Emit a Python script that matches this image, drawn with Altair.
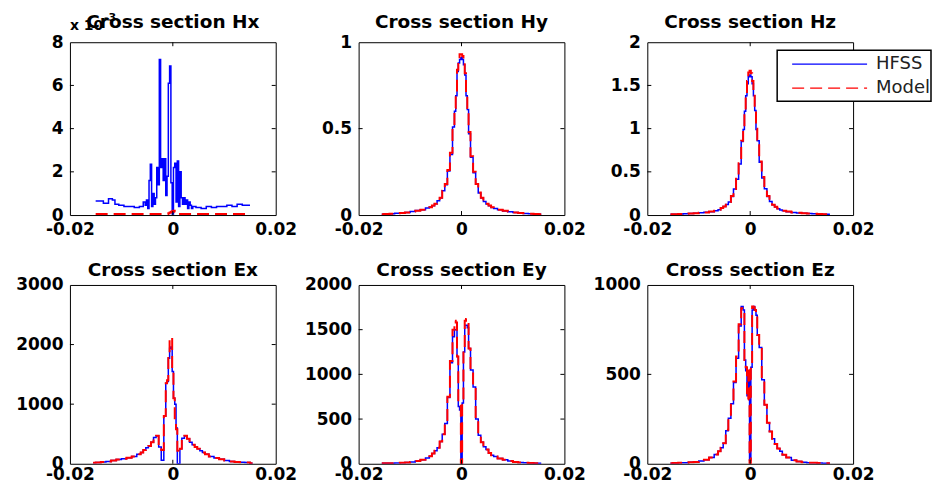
import altair as alt
import pandas as pd

FONT = "DejaVu Sans"
BLUE = "#0000ff"
RED = "#ff0000"

# ---------------- data ----------------
X_TICKS = [-0.02, 0, 0.02]

# shared x grid for Hy, Hz, Ex, Ey, Ez
X_GRID = [-0.0155, -0.0145, -0.0135, -0.0125, -0.0115, -0.0105, -0.0095, -0.0085, -0.0075, -0.0065,
          -0.006, -0.0055, -0.005, -0.0045, -0.004, -0.0035, -0.003, -0.0025, -0.002, -0.0015,
          -0.00125, -0.001, -0.00075, -0.0005, -0.00025, 0.0, 0.00025, 0.0005, 0.00075, 0.001, 0.00125,
          0.0015, 0.002, 0.0025, 0.003, 0.0035, 0.004, 0.0045, 0.005, 0.0055, 0.006,
          0.0065, 0.0075, 0.0085, 0.0095, 0.0105, 0.0115, 0.0125, 0.0135, 0.0145, 0.0155]

# x grid for Hx
X_HX = [-0.015, -0.014, -0.013, -0.012, -0.0115, -0.011, -0.010, -0.009, -0.008, -0.007, -0.006,
        -0.0055, -0.00525, -0.005, -0.00475, -0.0045, -0.00425, -0.004, -0.00375, -0.0035, -0.00325,
        -0.003, -0.00275, -0.0025, -0.00225, -0.002, -0.00175, -0.0015, -0.00125, -0.001, -0.00075,
        -0.0005, -0.00025, 0.0, 0.00025, 0.0005, 0.00075, 0.001, 0.00125, 0.0015, 0.00175,
        0.002, 0.00225, 0.0025, 0.00275, 0.003, 0.00325, 0.0035, 0.00375, 0.004,
        0.005, 0.006, 0.007, 0.008, 0.009, 0.010, 0.011, 0.012, 0.013, 0.014, 0.015]

# Hx in units of 1e-3
HX_HFSS = [0.65, 0.65, 0.55, 0.75, 0.70, 0.50, 0.45, 0.40, 0.40, 0.35, 0.40,
           0.60, 0.45, 0.70, 0.30, 1.60, 2.35, 0.40, 1.00, 0.50, 0.80,
           2.20, 1.40, 7.20, 2.20, 2.60, 1.60, 2.60, 0.90, 1.80, 6.10,
           6.90, 1.50, 0.05, 2.20, 2.40, 0.60, 2.50, 0.40, 2.00, 0.80,
           0.50, 0.80, 0.50, 0.70, 0.30, 0.60, 0.45, 0.30, 0.40,
           0.35, 0.30, 0.40, 0.35, 0.40, 0.40, 0.45, 0.40, 0.50, 0.45, 0.45]
HX_MODEL = [0.05, 0.05, 0.05, 0.05, 0.05, 0.05, 0.05, 0.05, 0.05, 0.05, 0.05,
            0.05, 0.05, 0.05, 0.05, 0.05, 0.05, 0.05, 0.05, 0.05, 0.05,
            0.05, 0.05, 0.05, 0.05, 0.05, 0.05, 0.05, 0.05, 0.05, 0.08,
            0.12, 0.15, 0.18, 0.20, 0.15, 0.10, 0.05, 0.05, 0.05, 0.05,
            0.05, 0.05, 0.05, 0.05, 0.05, 0.05, 0.05, 0.05, 0.05,
            0.05, 0.05, 0.05, 0.05, 0.05, 0.05, 0.05, 0.05, 0.05, 0.05, 0.05]

HY_HFSS = [0.004, 0.006, 0.008, 0.010, 0.013, 0.015, 0.020, 0.026, 0.031, 0.040,
           0.046, 0.054, 0.066, 0.082, 0.098, 0.140, 0.175, 0.255, 0.350, 0.510,
           0.600, 0.690, 0.830, 0.880, 0.900, 0.910, 0.900, 0.870, 0.810, 0.690, 0.610,
           0.470, 0.335, 0.245, 0.178, 0.128, 0.098, 0.078, 0.064, 0.054, 0.044,
           0.038, 0.030, 0.024, 0.019, 0.015, 0.012, 0.009, 0.007, 0.006, 0.005]
HY_MODEL = [0.005, 0.006, 0.008, 0.010, 0.012, 0.015, 0.020, 0.025, 0.030, 0.040,
            0.045, 0.055, 0.065, 0.080, 0.100, 0.140, 0.180, 0.260, 0.360, 0.520,
            0.620, 0.700, 0.840, 0.890, 0.930, 0.930, 0.920, 0.880, 0.820, 0.700, 0.620,
            0.480, 0.340, 0.250, 0.180, 0.130, 0.100, 0.080, 0.065, 0.055, 0.045,
            0.040, 0.030, 0.025, 0.020, 0.015, 0.012, 0.010, 0.008, 0.006, 0.005]

HZ_HFSS = [0.008, 0.010, 0.012, 0.014, 0.018, 0.021, 0.025, 0.031, 0.039, 0.050,
           0.060, 0.078, 0.098, 0.122, 0.150, 0.215, 0.300, 0.415, 0.590, 0.850,
           0.990, 1.200, 1.380, 1.520, 1.600, 1.620, 1.600, 1.520, 1.380, 1.210, 0.990,
           0.860, 0.610, 0.430, 0.305, 0.215, 0.158, 0.118, 0.094, 0.074, 0.059,
           0.049, 0.039, 0.030, 0.024, 0.020, 0.017, 0.014, 0.011, 0.010, 0.009]
HZ_MODEL = [0.010, 0.010, 0.012, 0.015, 0.018, 0.020, 0.025, 0.030, 0.040, 0.050,
            0.060, 0.080, 0.100, 0.120, 0.150, 0.220, 0.300, 0.420, 0.600, 0.860,
            1.000, 1.220, 1.400, 1.550, 1.650, 1.670, 1.640, 1.550, 1.400, 1.230, 1.000,
            0.870, 0.620, 0.440, 0.310, 0.220, 0.160, 0.120, 0.095, 0.075, 0.060,
            0.050, 0.040, 0.030, 0.025, 0.020, 0.018, 0.015, 0.012, 0.010, 0.010]

EX_HFSS = [15, 20, 28, 40, 55, 70, 85, 100, 120, 160,
           190, 230, 270, 300, 360, 440, 470, 280, 60, 800,
           1350, 1380, 1770, 1940, 1960, 1550, 1100, 1000, 600, 0, 0,
           250, 430, 470, 420, 360, 320, 280, 250, 220, 190,
           160, 120, 95, 75, 55, 40, 30, 25, 20, 10]
EX_MODEL = [15, 20, 30, 40, 55, 70, 85, 100, 120, 160,
            190, 230, 270, 300, 360, 440, 470, 300, 230, 800,
            1350, 1400, 1830, 2100, 2120, 1600, 1100, 700, 580, 220, 180,
            250, 430, 470, 420, 360, 320, 280, 250, 220, 190,
            160, 120, 95, 75, 55, 40, 30, 25, 20, 10]

EY_HFSS = [5, 5, 7, 9, 12, 15, 20, 30, 45, 65,
           85, 115, 145, 180, 250, 330, 450, 740, 1130, 1420,
           1500, 1500, 1200, 640, 600, 0, 680, 1250, 1550, 1550, 1520,
           1290, 1050, 860, 500, 320, 240, 190, 160, 120, 95,
           80, 60, 45, 30, 20, 14, 10, 8, 6, 5]
EY_MODEL = [5, 5, 7, 9, 12, 15, 20, 30, 45, 65,
            85, 115, 145, 180, 250, 330, 450, 750, 1150, 1500,
            1600, 1580, 1200, 650, 650, 0, 700, 1300, 1600, 1620, 1600,
            1290, 1050, 860, 500, 320, 240, 190, 160, 120, 95,
            80, 60, 45, 30, 20, 14, 10, 8, 6, 5]

EZ_HFSS = [3, 4, 5, 6, 8, 10, 15, 22, 35, 52,
           70, 90, 115, 185, 255, 335, 455, 590, 770, 880,
           860, 580, 520, 380, 520, 20, 540, 860, 880, 860, 830,
           720, 650, 470, 330, 230, 180, 140, 110, 85, 70,
           50, 35, 20, 12, 8, 6, 5, 4, 3, 3]
EZ_MODEL = [3, 4, 5, 6, 8, 10, 15, 22, 35, 52,
            70, 90, 115, 190, 260, 340, 460, 600, 780, 870,
            870, 560, 540, 360, 540, 0, 550, 880, 875, 860, 840,
            720, 650, 470, 330, 230, 180, 140, 110, 85, 70,
            50, 35, 20, 12, 8, 6, 5, 4, 3, 3]

TITLES = ["Cross section Hx", "Cross section Hy", "Cross section Hz",
          "Cross section Ex", "Cross section Ey", "Cross section Ez"]
Y_MAX = [8, 1, 2, 3000, 2000, 1000]
Y_TICKS = [[0, 2, 4, 6, 8], [0, 0.5, 1], [0, 0.5, 1, 1.5, 2],
           [0, 1000, 2000, 3000], [0, 500, 1000, 1500, 2000], [0, 500, 1000]]
LEGEND_LABELS = ["HFSS", "Model"]

W = 206
ROW_H = [173, 179]
TITLE_Y = [-14, -9]
XLAB_PAD = [6, 3]

ONE = pd.DataFrame({"a": [0]})


def make_panel(i, x, hfss, model):
    row = i // 3
    h = ROW_H[row]
    xs = alt.Scale(domain=[-0.02, 0.02], nice=False, zero=False)
    ys = alt.Scale(domain=[0, Y_MAX[i]], nice=False)
    xaxis = alt.Axis(values=X_TICKS,
                     labelExpr="datum.value < 0 ? '-' + format(-datum.value, '.2f') : (datum.value == 0 ? '0' : format(datum.value, '.2f'))",
                     ticks=False, domain=False, grid=False, labelFont=FONT, labelFontWeight="bold",
                     labelFontSize=17, labelColor="black", labelPadding=XLAB_PAD[row],
                     labelFlush=False, labelOverlap=False, title=None)
    yaxis = alt.Axis(values=Y_TICKS[i], labelExpr="'' + datum.value",
                     ticks=False, domain=False, grid=False, labelFont=FONT, labelFontWeight="bold",
                     labelFontSize=17, labelColor="black", labelPadding=7,
                     labelFlush=False, labelOverlap=False, title=None)
    X = lambda f: alt.X(f, scale=xs, axis=xaxis)
    Y = lambda f: alt.Y(f, scale=ys, axis=yaxis)
    df_h = pd.DataFrame({"x": x, "y": hfss})
    df_m = pd.DataFrame({"x": x, "y": model})
    blue = alt.Chart(df_h).mark_line(interpolate="step", color=BLUE, strokeWidth=1.5, clip=True).encode(
        x=X("x:Q"), y=Y("y:Q"))
    red = alt.Chart(df_m).mark_line(interpolate="step", color=RED, strokeWidth=2, strokeDash=[12, 6],
                                    clip=True).encode(x=X("x:Q"), y=Y("y:Q"))
    xt = pd.DataFrame({"x": [0.0]})
    yt = pd.DataFrame({"y": Y_TICKS[i][1:-1]})
    tb = alt.Chart(xt).mark_rule(color="black").encode(x=X("x:Q"), y=alt.value(h), y2=alt.value(h - 4))
    tt = alt.Chart(xt).mark_rule(color="black").encode(x=X("x:Q"), y=alt.value(0), y2=alt.value(4))
    tl = alt.Chart(yt).mark_rule(color="black").encode(y=Y("y:Q"), x=alt.value(0), x2=alt.value(4))
    tr = alt.Chart(yt).mark_rule(color="black").encode(y=Y("y:Q"), x=alt.value(W), x2=alt.value(W - 4))
    ttl = alt.Chart(ONE).mark_text(font=FONT, fontWeight="bold", fontSize=18.5, align="center",
                                   baseline="alphabetic", color="black").encode(
        x=alt.value(W / 2), y=alt.value(TITLE_Y[row]), text=alt.value(TITLES[i]))
    layers = [blue, red, tb, tt, tl, tr, ttl]
    if i == 0:
        layers.append(alt.Chart(ONE).mark_text(font=FONT, fontWeight="bold", fontSize=14, align="left",
                                                baseline="alphabetic", color="black").encode(
            x=alt.value(0), y=alt.value(-12), text=alt.value("x 10")))
        layers.append(alt.Chart(ONE).mark_text(font=FONT, fontWeight="bold", fontSize=11, align="left",
                                                baseline="alphabetic", color="black").encode(
            x=alt.value(34), y=alt.value(-21), text=alt.value("-3")))
    if i == 2:
        layers.append(alt.Chart(ONE).mark_rect(fill="white", stroke="black", strokeWidth=1.5).encode(
            x=alt.value(130), x2=alt.value(284), y=alt.value(8), y2=alt.value(59)))
        layers.append(alt.Chart(ONE).mark_rule(color=BLUE, strokeWidth=1.2).encode(
            x=alt.value(145), x2=alt.value(220), y=alt.value(22)))
        layers.append(alt.Chart(ONE).mark_rule(color=RED, strokeWidth=1.2, strokeDash=[12, 6]).encode(
            x=alt.value(145), x2=alt.value(220), y=alt.value(46)))
        for k, lab in enumerate(LEGEND_LABELS):
            layers.append(alt.Chart(ONE).mark_text(font=FONT, fontSize=18, align="left", baseline="middle",
                                                    color="#222222").encode(
                x=alt.value(229), y=alt.value(22 + 24 * k), text=alt.value(lab)))
    return alt.layer(*layers).properties(width=W, height=h)


panels = [
    make_panel(0, X_HX, HX_HFSS, HX_MODEL),
    make_panel(1, X_GRID, HY_HFSS, HY_MODEL),
    make_panel(2, X_GRID, HZ_HFSS, HZ_MODEL),
    make_panel(3, X_GRID, EX_HFSS, EX_MODEL),
    make_panel(4, X_GRID, EY_HFSS, EY_MODEL),
    make_panel(5, X_GRID, EZ_HFSS, EZ_MODEL),
]

chart = alt.concat(*panels, columns=3, spacing={"row": 70, "column": 83}, bounds="flush", align="each").properties(
    padding={"left": 7, "top": 3, "right": 0, "bottom": 0},
    background="white",
).configure_view(stroke="black", strokeWidth=1)

chart.save("out.html", embed_options={"renderer": "svg", "actions": False})
